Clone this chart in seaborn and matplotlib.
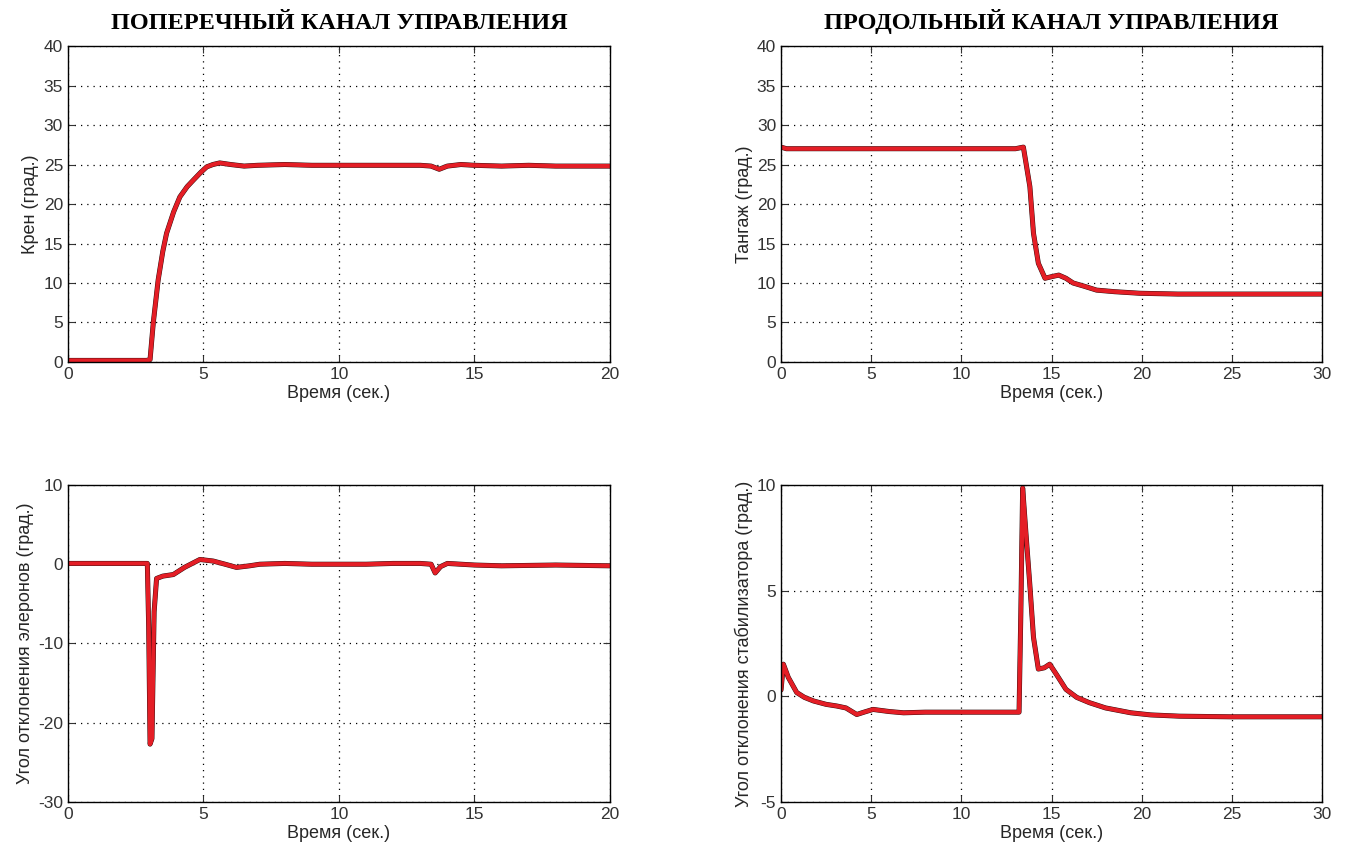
import numpy as np
import matplotlib
matplotlib.use("Agg")
import matplotlib.pyplot as plt
import seaborn as sns

# roll channel: bank angle (deg) vs time (s)
roll_t = [0.0, 1.0, 2.0, 2.9, 3.03, 3.15, 3.33, 3.5, 3.64, 3.9, 4.13, 4.4, 4.62, 4.9, 5.12, 5.35, 5.6,
          6.0, 6.5, 7.0, 8.0, 9.0, 10.0, 11.0, 12.0, 13.0, 13.4, 13.7, 14.0, 14.5, 15.0, 16.0, 17.0, 18.0, 20.0]
roll_v = [0.2, 0.2, 0.2, 0.2, 0.3, 5.0, 10.4, 14.0, 16.3, 19.0, 20.9, 22.2, 23.0, 24.0, 24.7, 25.0, 25.2,
          25.0, 24.8, 24.9, 25.0, 24.9, 24.9, 24.9, 24.9, 24.9, 24.8, 24.4, 24.8, 25.0, 24.9, 24.8, 24.9, 24.8, 24.8]

# pitch channel: pitch angle (deg) vs time (s)
pitch_t = [0.0, 0.3, 1.0, 5.0, 10.0, 13.0, 13.44, 13.8, 14.0, 14.27, 14.64, 15.0, 15.4, 15.8, 16.2,
           16.8, 17.5, 18.5, 19.9, 22.0, 25.0, 30.0]
pitch_v = [27.2, 27.0, 27.0, 27.0, 27.0, 27.0, 27.2, 22.2, 16.3, 12.5, 10.6, 10.8, 11.0, 10.6, 10.0,
           9.6, 9.1, 8.9, 8.7, 8.6, 8.6, 8.6]

# aileron deflection (deg)
ail_t = [0.0, 1.0, 2.0, 2.93, 2.98, 3.03, 3.1, 3.18, 3.27, 3.5, 3.89, 4.3, 4.87, 5.36, 5.8, 6.22,
         6.7, 7.08, 8.0, 9.0, 10.0, 11.0, 12.0, 13.0, 13.4, 13.55, 13.75, 14.0, 15.0, 16.0, 18.0, 20.0]
ail_v = [0.1, 0.1, 0.1, 0.1, -8.0, -22.7, -22.0, -6.0, -1.8, -1.5, -1.3, -0.4, 0.6, 0.4, 0.0, -0.4,
         -0.2, 0.0, 0.1, 0.0, 0.0, 0.0, 0.1, 0.1, 0.0, -1.1, -0.3, 0.1, -0.1, -0.2, -0.1, -0.2]

# stabilizer deflection (deg)
stab_t = [0.0, 0.13, 0.4, 0.87, 1.3, 1.8, 2.5, 3.1, 3.6, 4.2, 4.6, 5.1, 6.0, 6.8, 8.0, 10.0, 12.0,
          13.2, 13.3, 13.4, 13.6, 13.8, 14.0, 14.27, 14.6, 14.9, 15.3, 15.8, 16.4, 17.1, 18.0, 19.4,
          20.5, 22.1, 25.0, 30.0]
stab_v = [0.3, 1.52, 0.9, 0.18, -0.05, -0.22, -0.38, -0.46, -0.55, -0.86, -0.75, -0.62, -0.72, -0.78,
          -0.75, -0.75, -0.75, -0.75, 4.0, 9.86, 7.5, 5.25, 2.8, 1.29, 1.35, 1.52, 1.0, 0.33, -0.05, -0.3,
          -0.55, -0.78, -0.88, -0.94, -0.97, -0.97]

sns.set_style("white")
plt.rcParams["font.family"] = ["Liberation Sans", "DejaVu Sans"]
plt.rcParams["axes.unicode_minus"] = False

fig = plt.figure(figsize=(13.48, 8.57), dpi=100)
ax_tl = fig.add_axes([0.0504, 0.5776, 0.4021, 0.3687])
ax_tr = fig.add_axes([0.5794, 0.5776, 0.4013, 0.3687])
ax_bl = fig.add_axes([0.0504, 0.0642, 0.4021, 0.3699])
ax_br = fig.add_axes([0.5794, 0.0642, 0.4013, 0.3699])

panels = [
    (ax_tl, roll_t, roll_v, (0, 20), 5, (0, 40), 5, "Крен (град.)"),
    (ax_tr, pitch_t, pitch_v, (0, 30), 5, (0, 40), 5, "Тангаж (град.)"),
    (ax_bl, ail_t, ail_v, (0, 20), 5, (-30, 10), 10, "Угол отклонения элеронов (град.)"),
    (ax_br, stab_t, stab_v, (0, 30), 5, (-5, 10), 5, "Угол отклонения стабилизатора (град.)"),
]

for ax, t, v, xlim, xstep, ylim, ystep, ylab in panels:
    # thin dark trace under a thicker red one, as in the original printout
    sns.lineplot(x=t, y=v, ax=ax, color="#2a0a0a", linewidth=3.6, sort=False)
    sns.lineplot(x=t, y=v, ax=ax, color="#e41e26", linewidth=3.0, sort=False)
    ax.set_xlim(*xlim)
    ax.set_ylim(*ylim)
    ax.set_xticks(np.arange(xlim[0], xlim[1] + 0.1, xstep))
    ax.set_yticks(np.arange(ylim[0], ylim[1] + 0.1, ystep))
    ax.grid(True, color="black", linestyle=(0, (1, 4)), linewidth=0.9)
    ax.tick_params(direction="in", length=5, labelsize=12.5, colors="#333333",
                   top=True, right=True, bottom=True, left=True)
    for sp in ax.spines.values():
        sp.set_color("black")
        sp.set_linewidth(1.0)
    ax.set_xlabel("Время (сек.)", fontsize=13, labelpad=2)
    ax.set_ylabel(ylab, fontsize=13, labelpad=3)

title_font = dict(family="Liberation Serif", fontweight="bold", fontsize=17.5, color="black")
ax_tl.set_title("ПОПЕРЕЧНЫЙ КАНАЛ УПРАВЛЕНИЯ", pad=12, **title_font)
ax_tr.set_title("ПРОДОЛЬНЫЙ КАНАЛ УПРАВЛЕНИЯ", pad=12, **title_font)

fig.savefig("out.png", dpi=100)
